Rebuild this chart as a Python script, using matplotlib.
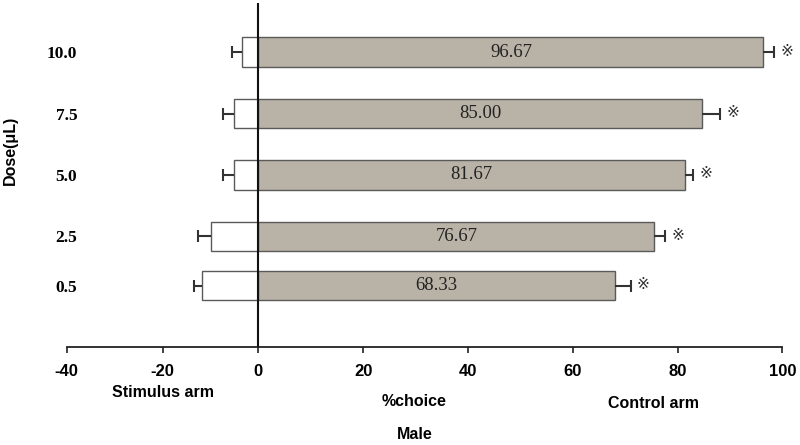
import numpy as np
import matplotlib
matplotlib.use("Agg")
import matplotlib.pyplot as plt

# dose levels (y axis is numeric, so 0.5 -> 2.5 gap is shorter)
doses = [0.5, 2.5, 5.0, 7.5, 10.0]
dose_labels = ['0.5', '2.5', '5.0', '7.5', '10.0']

# stimulus arm (drawn to the left, negative side)
stimulus = [11.67, 9.9, 5.0, 5.0, 3.4]
stimulus_err = [1.7, 2.6, 2.3, 2.3, 2.1]

# control arm (right side)
control = [68.1, 75.6, 81.4, 84.7, 96.4]
control_err = [3.0, 2.0, 1.6, 3.4, 2.1]
control_labels = ['68.33', '76.67', '81.67', '85.00', '96.67']

xticks = [-40, -20, 0, 20, 40, 60, 80, 100]

# negative side of the axis is drawn a bit compressed in the original
neg_k = 0.914


def fwd(x):
    x = np.asarray(x, dtype=float)
    return np.where(x < 0, x * neg_k, x)


def inv(y):
    y = np.asarray(y, dtype=float)
    return np.where(y < 0, y / neg_k, y)


fig = plt.figure(figsize=(8, 4.45), dpi=100)
ax = fig.add_axes([0.0834, 0.2202, 0.8945, 0.7731])
ax.set_xscale('function', functions=(fwd, inv))

gray = '#b9b2a6'
edge = '#5a5a5a'
bar_h = 1.2

left = -np.array(stimulus)
right = np.array(control)
left_end = left - np.array(stimulus_err)
right_end = right + np.array(control_err)

ax.barh(doses, left, height=bar_h, color='white',
        edgecolor=edge, linewidth=1.0, zorder=2)
ax.barh(doses, right, height=bar_h, color=gray,
        edgecolor=edge, linewidth=1.0, zorder=2)

# one-sided error bars, cap only on the outer end
ax.hlines(doses, left_end, left, color='#333333', linewidth=1.5, zorder=3)
ax.hlines(doses, right, right_end, color='#333333', linewidth=1.5, zorder=3)
ax.plot(left_end, doses, linestyle='none', marker='|', markersize=8,
        markeredgewidth=1.5, color='#333333', zorder=3)
ax.plot(right_end, doses, linestyle='none', marker='|', markersize=8,
        markeredgewidth=1.5, color='#333333', zorder=3)

for d, v, e, lab in zip(doses, right, right_end, control_labels):
    ax.text(v / 2, d, lab, ha='center', va='center', fontsize=13.5,
            family='Liberation Serif', color='#222222', zorder=4)
    ax.annotate('※', xy=(e, d), xytext=(9, 0), textcoords='offset points',
                ha='center', va='center', fontsize=11,
                family=['Liberation Serif', 'DejaVu Sans'], color='#333333')

ax.axvline(0, color='#111111', linewidth=1.5, zorder=5)

ax.set_xlim(-40, 100)
ax.set_ylim(-2, 12)
ax.set_xticks(xticks)
ax.set_xticklabels([str(t) for t in xticks], fontsize=12, fontweight='bold',
                   family='Liberation Sans')
ax.tick_params(axis='x', direction='out', length=4.5, width=1.2,
               color='#222222', pad=8)

ax.set_yticks(doses)
ax.set_yticklabels(dose_labels, fontsize=12.5, fontweight='bold',
                   family='Liberation Serif')
ax.tick_params(axis='y', length=0, pad=-7.5)

for s in ['left', 'top', 'right']:
    ax.spines[s].set_visible(False)
ax.spines['bottom'].set_linewidth(1.3)
ax.spines['bottom'].set_color('#222222')

lab_kw = dict(fontsize=11.5, fontweight='bold', family='Liberation Sans',
              ha='center', va='center')
fig.text(0.204, 0.117, 'Stimulus arm', **lab_kw)
fig.text(0.5175, 0.097, '%choice', **lab_kw)
fig.text(0.8175, 0.094, 'Control arm', **lab_kw)
fig.text(0.519, 0.024, 'Male', **lab_kw)
fig.text(0.0125, 0.661, 'Dose(μL)', rotation=90,
         **dict(lab_kw, family=['Liberation Sans', 'DejaVu Sans']))

fig.savefig('out.png', dpi=100)
